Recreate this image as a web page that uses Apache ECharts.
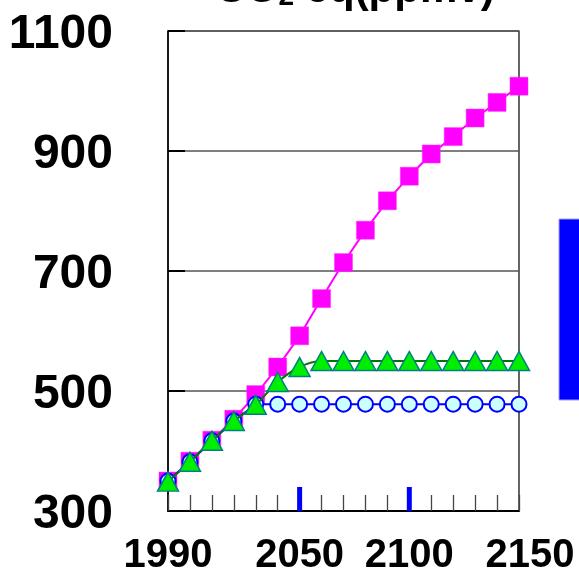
<!DOCTYPE html>
<html>
<head>
<meta charset="utf-8">
<script src="https://cdn.jsdelivr.net/npm/echarts@6/dist/echarts.min.js"></script>
<style>
  html, body { margin: 0; padding: 0; background: #fff; }
  #chart { width: 579px; height: 571px; }
</style>
</head>
<body>
<div id="chart"></div>
<script>
// CO2-equivalent concentration pathways, 1990-2150 (ppmv)
const years = [1990, 2000, 2010, 2020, 2030, 2040, 2050, 2060, 2070, 2080, 2090, 2100, 2110, 2120, 2130, 2140, 2150];
const highPath = [350, 383, 418, 453, 494, 540, 592, 654, 714, 768, 817, 858, 895, 924, 955, 981, 1008];
const stab450 = [350, 382, 417, 450, 478, 478, 478, 478, 478, 478, 478, 478, 478, 478, 478, 478, 478];
const stab550 = [349, 382, 417, 450, 477, 515, 540, 550, 550, 550, 550, 550, 550, 550, 550, 550, 550];
const xLabelYears = [1990, 2050, 2100, 2150];
const yTicks = [300, 500, 700, 900, 1100];
const markerYears = [2050, 2100];

const FONT = 'Liberation Sans, Arial, Helvetica, sans-serif';
const pair = (vals) => years.map((y, i) => [y, vals[i]]);

const chart = echarts.init(document.getElementById('chart'), null, { renderer: 'canvas' });

chart.setOption({
  animation: false,
  backgroundColor: '#ffffff',
  grid: {
    left: 168, right: 60, top: 31, bottom: 60,
    containLabel: false, outerBoundsMode: 'none',
    show: true, borderColor: '#000', borderWidth: 1.2, backgroundColor: 'transparent'
  },
  graphic: [
    {
      type: 'text',
      x: 355, y: -10,
      style: {
        text: '{a|CO}{b|2}{a| eq(ppmv)}',
        align: 'center',
        verticalAlign: 'middle',
        fill: '#000',
        rich: {
          a: { fontSize: 42, fontWeight: 'bold', fontFamily: FONT, lineHeight: 42 },
          b: { fontSize: 28, fontWeight: 'bold', fontFamily: FONT, lineHeight: 12, verticalAlign: 'bottom' }
        }
      }
    },
    {
      type: 'rect',
      shape: { x: 559, y: 219, width: 30, height: 181 },
      style: { fill: '#0000ff', stroke: '#a0a0ff', lineWidth: 1 }
    }
  ],
  xAxis: {
    type: 'value',
    min: years[0], max: years[years.length - 1], interval: 10,
    axisLine: { show: true, lineStyle: { color: '#000', width: 2 } },
    axisTick: { show: true, inside: true, length: 16, lineStyle: { color: '#444', width: 1.3 } },
    splitLine: { show: false },
    axisLabel: {
      show: true, margin: 25, color: '#000',
      fontSize: 40, fontWeight: 'bold', fontFamily: FONT,
      showMinLabel: true, showMaxLabel: true, hideOverlap: false,
      formatter: (v) => {
        if (!xLabelYears.includes(v)) return '';
        return v === xLabelYears[xLabelYears.length - 1] ? '{r|' + v + '}' : String(v);
      },
      rich: {
        r: { fontSize: 40, fontWeight: 'bold', fontFamily: FONT, color: '#000', padding: [0, 0, 0, 22] }
      }
    }
  },
  yAxis: {
    type: 'value',
    min: yTicks[0], max: yTicks[yTicks.length - 1], interval: 200,
    axisLine: { show: true, lineStyle: { color: '#000', width: 1.5 } },
    axisTick: { show: true, inside: true, length: 17, lineStyle: { color: '#000', width: 2 } },
    splitLine: { show: true, lineStyle: { color: '#555', width: 1.5 } },
    axisLabel: {
      show: true, margin: 55, color: '#000',
      fontSize: 48, fontWeight: 'bold', fontFamily: FONT,
      showMinLabel: true, showMaxLabel: true, hideOverlap: false,
      formatter: (v) => '{v|' + v + '}',
      rich: {
        v: { fontSize: 48, fontWeight: 'bold', fontFamily: FONT, color: '#000', lineHeight: 48, padding: [8, 0, 0, 0] }
      }
    }
  },
  series: [
    {
      name: 'high', type: 'line', data: pair(highPath), clip: false,
      symbol: 'rect', symbolSize: 18,
      lineStyle: { color: '#ff00ff', width: 2 },
      itemStyle: { color: '#ff00ff', borderColor: '#ff33ff', borderWidth: 0.5 },
      z: 3
    },
    {
      name: '450', type: 'line', data: pair(stab450), clip: false,
      symbol: 'circle', symbolSize: 15,
      lineStyle: { color: '#0000ff', width: 2 },
      itemStyle: { color: '#ccffff', borderColor: '#0000ff', borderWidth: 2 },
      z: 4
    },
    {
      name: '550', type: 'line', data: pair(stab550), clip: false, smooth: 0.35,
      symbol: 'triangle', symbolSize: [21, 19],
      lineStyle: { color: '#007700', width: 2 },
      itemStyle: { color: '#00ee00', borderColor: '#008080', borderWidth: 1.5 },
      z: 5
    },
    {
      name: 'markers', type: 'custom', silent: true, z: 6,
      data: markerYears.map((y) => [y, yTicks[0]]),
      renderItem: (params, api) => {
        const p = api.coord([api.value(0), api.value(1)]);
        return {
          type: 'rect',
          shape: { x: p[0] - 2.5, y: p[1] - 24, width: 5, height: 24 },
          style: { fill: '#0000ff' }
        };
      }
    }
  ]
});
</script>
</body>
</html>
